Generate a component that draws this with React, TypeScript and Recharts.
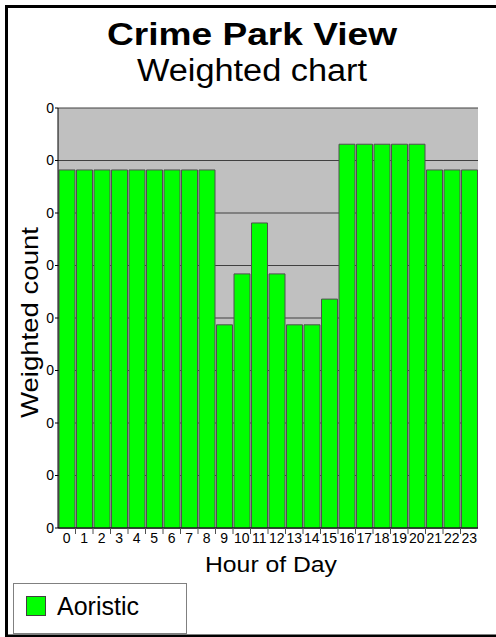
import React from "react";
import { BarChart, Bar, XAxis, YAxis, CartesianGrid } from "recharts";

const hours: string[] = [
  "0", "1", "2", "3", "4", "5", "6", "7", "8", "9", "10", "11",
  "12", "13", "14", "15", "16", "17", "18", "19", "20", "21", "22", "23",
];
const aoristic: number[] = [
  0.682, 0.682, 0.682, 0.682, 0.682, 0.682, 0.682, 0.682, 0.682,
  0.387, 0.484, 0.581, 0.484, 0.387, 0.387, 0.436,
  0.731, 0.731, 0.731, 0.731, 0.731,
  0.682, 0.682, 0.682,
];
const yTicks: number[] = [0, 0.1, 0.2, 0.3, 0.4, 0.5, 0.6, 0.7, 0.8];
const titleText = "Crime Park View";
const subtitleText = "Weighted chart";
const xLabel = "Hour of Day";
const yLabel = "Weighted count";
const seriesName = "Aoristic";

const data = hours.map((h, i) => ({ hour: h, value: aoristic[i] }));
const FONT = "'Liberation Sans', Arial, sans-serif";
const HALF_BAND = 420 / hours.length / 2;

function HourTick(props: any) {
  const { x, y, payload, index } = props;
  return (
    <g>
      {index < hours.length - 1 && (
        <line x1={x + HALF_BAND} x2={x + HALF_BAND} y1={y - 5} y2={y + 1} stroke="#505050" strokeWidth={1} />
      )}
      <text x={x} y={y} dy="0.71em" textAnchor="middle" fill="#000" fontSize={14} fontFamily={FONT}>
        {payload.value}
      </text>
    </g>
  );
}

export default function App() {
  return (
    <div style={{ position: "absolute", left: 0, top: 0, width: 496, height: 637, background: "#fff", overflow: "hidden" }}>
      <BarChart
        width={496}
        height={637}
        data={data}
        margin={{ top: 108, right: 18, bottom: 79, left: 0 }}
        barCategoryGap={1}
      >
        <CartesianGrid
          vertical={false}
          fill="#c0c0c0"
          fillOpacity={1}
          stroke="#404040"
          strokeWidth={1}
        />
        <XAxis
          dataKey="hour"
          interval={0}
          height={30}
          tickLine={false}
          tickSize={3}
          tickMargin={2}
          axisLine={{ stroke: "#000", strokeWidth: 1 }}
          tick={<HourTick />}
        />
        <YAxis
          width={58}
          domain={[0, 0.8]}
          ticks={yTicks}
          interval={0}
          tickFormatter={(v: number) => String(Math.trunc(v))}
          tickSize={3}
          tickMargin={1}
          axisLine={{ stroke: "#000", strokeWidth: 1 }}
          tickLine={{ stroke: "#000" }}
          tick={{ fill: "#000", fontSize: 14, fontFamily: FONT }}
        />
        <YAxis
          yAxisId="right"
          orientation="right"
          width={0}
          domain={[0, 0.8]}
          tick={false}
          tickLine={false}
          axisLine={{ stroke: "#808080", strokeWidth: 1 }}
        />
        <Bar
          dataKey="value"
          name={seriesName}
          fill="#00ff00"
          stroke="#505050"
          strokeWidth={1}
          isAnimationActive={false}
        />
      </BarChart>
      <svg
        width={496}
        height={637}
        style={{ position: "absolute", left: 0, top: 0, pointerEvents: "none" }}
      >
        <rect x={6.5} y={6.5} width={520} height={629.5} fill="none" stroke="#000" strokeWidth={3} />
        <text x={107} y={45} fontFamily={FONT} fontWeight="bold" fontSize={31} fill="#000" textLength={290} lengthAdjust="spacingAndGlyphs">
          {titleText}
        </text>
        <text x={137} y={81} fontFamily={FONT} fontSize={31} fill="#000" textLength={230} lengthAdjust="spacingAndGlyphs">
          {subtitleText}
        </text>
        <text x={205} y={572} fontFamily={FONT} fontSize={22} fill="#000" textLength={132} lengthAdjust="spacingAndGlyphs">
          {xLabel}
        </text>
        <text
          x={227}
          y={38}
          fontFamily={FONT}
          fontSize={24}
          fill="#000"
          textLength={191}
          lengthAdjust="spacingAndGlyphs"
          transform="rotate(-90) translate(-645 0)"
        >
          {yLabel}
        </text>
        <rect x={13.5} y={583.5} width={173} height={50} fill="#fff" stroke="#808080" strokeWidth={1} />
        <rect x={26.5} y={596.5} width={19} height={19} fill="#00ff00" stroke="#404040" strokeWidth={1} />
        <text x={57} y={615} fontFamily={FONT} fontSize={25} fill="#000">
          {seriesName}
        </text>
      </svg>
    </div>
  );
}
